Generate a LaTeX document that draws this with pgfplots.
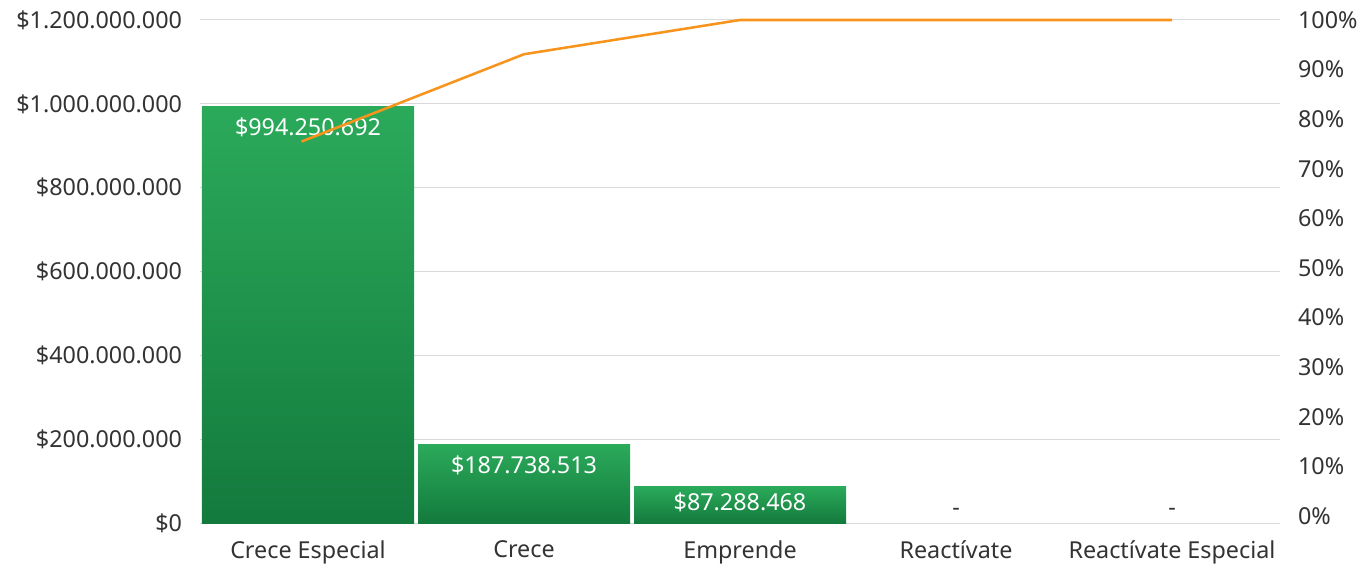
\documentclass[border=0pt]{standalone}
\usepackage{pgfplots}
\pgfplotsset{compat=1.18}
\usepackage{fontspec}
\setmainfont{Noto Sans}
\usetikzlibrary{calc}
\definecolor{txt}{HTML}{333333}
\definecolor{gridc}{HTML}{D9D9D9}
\definecolor{gtop}{HTML}{2BAA5A}
\definecolor{gbot}{HTML}{137A3D}
\definecolor{orn}{HTML}{F7941D}
\begin{document}
\begin{tikzpicture}
\begin{axis}[
  scale only axis,
  width=810pt, height=377.25pt,
  xmin=-0.5, xmax=4.5,
  ymin=0, ymax=1200000000,
  scaled y ticks=false,
  axis line style={draw=none},
  ymajorgrids,
  grid style={gridc, line width=0.75pt},
  ytick={0,200000000,400000000,600000000,800000000,1000000000,1200000000},
  yticklabels={\$0,\$200.000.000,\$400.000.000,\$600.000.000,\$800.000.000,\$1.000.000.000,\$1.200.000.000},
  xtick={0,1,2,3,4},
  xticklabels={Crece Especial,Crece,Emprende,Reactívate,Reactívate Especial},
  major tick length=0pt,
  tick label style={font=\fontsize{17.5}{19}\selectfont, text=txt},
  yticklabel style={xshift=-10pt},
  xticklabel style={yshift=-10pt},
  ybar, bar width=159pt, bar shift=0pt,
  clip=false,
  every node near coord/.append style={anchor=center, yshift=-15.75pt, text=white, font=\fontsize{17.5}{19}\selectfont},
]
\addplot[draw=none, top color=gtop, bottom color=gbot,
  nodes near coords, point meta=explicit symbolic]
coordinates { (0,994250692) [\$994.250.692] };
\addplot[draw=none, top color=gtop, bottom color=gbot,
  nodes near coords, point meta=explicit symbolic]
coordinates { (1,187738513) [\$187.738.513] };
\addplot[draw=none, top color=gtop, bottom color=gbot,
  nodes near coords, point meta=explicit symbolic,
  every node near coord/.append style={yshift=3.5pt}]
coordinates { (2,87288468) [\$87.288.468] };
\addplot[draw=none, fill=none,
  nodes near coords, point meta=explicit symbolic,
  every node near coord/.append style={yshift=24pt, text=txt}]
coordinates {
  (3,0) [-]
  (4,0) [-]
};
\end{axis}
\begin{axis}[
  scale only axis,
  width=810pt, height=377.25pt,
  xmin=-0.5, xmax=4.5,
  ymin=-1.4, ymax=100,
  axis x line=none,
  axis y line*=right,
  y axis line style={draw=none},
  ytick={0,10,20,30,40,50,60,70,80,90,100},
  yticklabels={0\%,10\%,20\%,30\%,40\%,50\%,60\%,70\%,80\%,90\%,100\%},
  major tick length=0pt,
  tick label style={font=\fontsize{17.5}{19}\selectfont, text=txt},
  yticklabel style={xshift=10pt},
  clip=false,
]
\addplot[orn, line width=1.9pt, mark=none] coordinates {
  (-0.03,75.5) (1,93.1) (2,100) (3,100) (4,100)
};
\end{axis}
\pgfresetboundingbox
\path[use as bounding box] ($(current axis.south west)+(-150pt,-33pt)$) rectangle ++(1024.5pt,425.25pt);
\end{tikzpicture}
\end{document}
